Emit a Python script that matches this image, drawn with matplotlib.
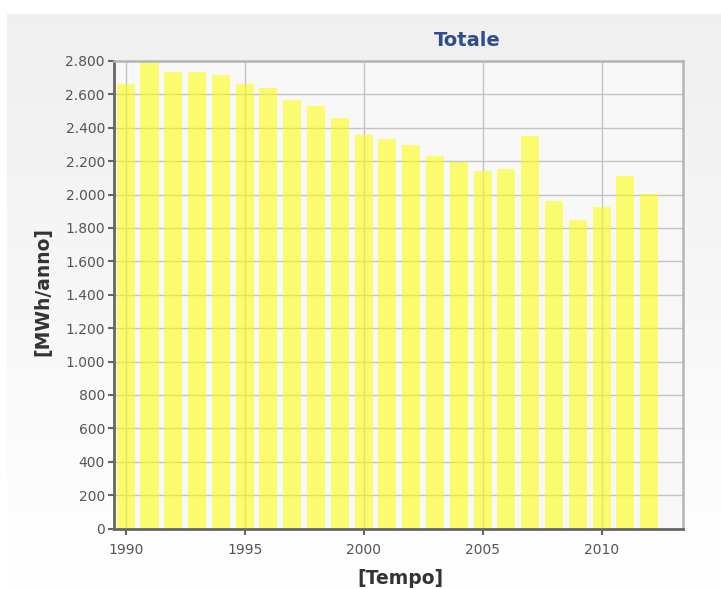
import matplotlib
matplotlib.use("Agg")
import matplotlib.pyplot as plt
import numpy as np
from matplotlib.ticker import FuncFormatter, MultipleLocator

years = list(range(1990, 2013))
values = [2660, 2790, 2732, 2735, 2718, 2664, 2638, 2568, 2532, 2458,
          2358, 2332, 2298, 2232, 2198, 2142, 2152, 2348, 1959, 1847,
          1926, 2112, 2003]
year_ticks = [1990, 1995, 2000, 2005, 2010]
title = "Totale"
xlabel = "[Tempo]"
ylabel = "[MWh/anno]"

W, H = 721, 589
fig = plt.figure(figsize=(W / 100, H / 100), dpi=100)
fig.patch.set_facecolor("white")

# gradient background panel
bg = fig.add_axes([7 / W, 0, 1 - 7 / W, 1 - 14 / H], zorder=-10)
grad = np.linspace(0.94, 1.0, 256).reshape(-1, 1)
bg.imshow(np.dstack([grad, grad, grad]), aspect="auto", extent=[0, 1, 0, 1],
          origin="upper")
bg.axis("off")

left, right, top, bottom = 114, 683, 61, 528.5
ax = fig.add_axes([left / W, 1 - bottom / H, (right - left) / W, (bottom - top) / H])
ax.set_facecolor("#f8f8f8")

ax.bar(years, values, width=0.76, color="#ffff00", alpha=0.55, zorder=2,
       linewidth=0)

ax.set_xlim(1989.51, 2013.42)
ax.set_ylim(0, 2800)
ax.set_xticks(year_ticks)
ax.yaxis.set_major_locator(MultipleLocator(200))
ax.yaxis.set_major_formatter(FuncFormatter(lambda v, p: f"{int(v):,}".replace(",", ".")))
ax.grid(True, color="#c4c4c4", linewidth=1.0, zorder=1)
ax.set_axisbelow(True)

ax.tick_params(axis="both", direction="out", length=4.5, width=1.5,
               color="#666666", labelcolor="#555555", labelsize=10)
ax.tick_params(axis="x", pad=6)
ax.tick_params(axis="y", pad=2)

for s in ["left", "bottom"]:
    ax.spines[s].set_color("#666666")
    ax.spines[s].set_linewidth(2)
for s in ["top", "right"]:
    ax.spines[s].set_color("#b5b5b5")
    ax.spines[s].set_linewidth(1.8)

fig.text(400 / W, 1 - 578 / H, xlabel, ha="center", va="center", fontsize=13.5,
         fontweight="bold", color="#333333")
fig.text(43 / W, 1 - 292 / H, ylabel, ha="center", va="center", fontsize=13.5,
         fontweight="bold", color="#333333", rotation=90)

fig.text(467 / W, 1 - 41 / H, title, ha="center", va="center", fontsize=14,
         fontweight="bold", color="#2e4d8f")

fig.savefig("out.png", dpi=100)
